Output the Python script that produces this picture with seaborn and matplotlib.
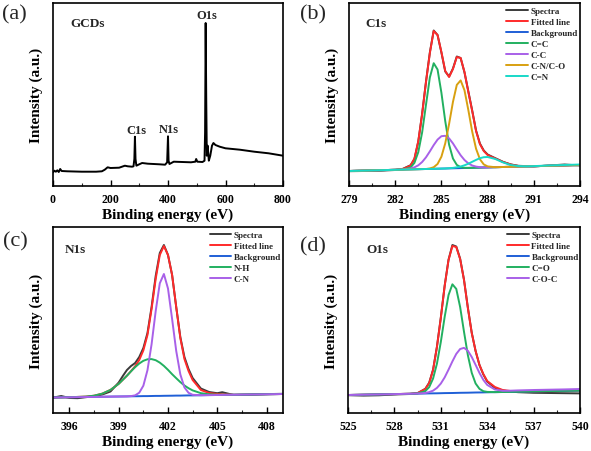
import numpy as np
import pandas as pd
import seaborn as sns
import matplotlib
matplotlib.use("Agg")
import matplotlib.pyplot as plt
from matplotlib.ticker import MultipleLocator

# ---------------- data ----------------
# (a) survey spectrum
survey_x = [0, 5, 10, 15, 20, 25, 30, 50, 100, 150, 170, 180, 190, 200, 230, 250, 260, 275, 280, 283,
            285, 287, 290, 300, 310, 330, 370, 390, 397, 400, 402, 405, 420, 450, 480, 495, 498, 502, 520, 527,
            529, 531, 533, 535, 538, 542, 547, 553, 558, 565, 580, 600, 650, 700, 750, 800]
survey_y = [13.7, 15.3, 14.3, 15.7, 14.0, 17.0, 15.0, 14.7, 14.3, 14.3, 14.7, 16.3, 18.7, 18.0, 18.3, 20.3, 19.7, 19.3, 19.7, 27.0,
            49.3, 27.0, 20.3, 21.7, 23.0, 22.3, 21.7, 21.3, 23.7, 49.7, 25.3, 22.0, 24.3, 24.0, 23.7, 24.3, 27.0, 24.3, 24.0, 25.3,
            53.7, 163.0, 87.0, 30.3, 40.3, 25.3, 30.3, 40.3, 43.0, 41.0, 39.3, 37.7, 36.3, 34.3, 32.7, 30.3]
survey_peaks = ["C1s", "N1s", "O1s"]
survey_peak_x = [289, 402, 536]
survey_peak_y = [56, 57, 171]

# (b) C1s
c1s_x = [279, 280, 281, 282, 282.5, 283, 283.25, 283.5, 283.75, 284, 284.25, 284.5, 284.75, 285, 285.25,
         285.5, 285.75, 286, 286.25, 286.5, 286.75, 287, 287.25, 287.5, 287.75, 288, 288.5, 289, 289.5, 290,
         290.5, 291, 292, 293, 294]
c1s_spectra = [14.8, 15.0, 15.3, 16.0, 17.2, 20.8, 27.0, 44.5, 72.5, 104.5, 133.5, 155.5, 151.0, 133.5, 114.5,
               109.5, 117.5, 129.5, 128.0, 113.5, 94.5, 75.5, 55.5, 42.5, 35.5, 31.5, 27.8, 24.2, 21.6, 20.2,
               19.9, 19.6, 20.5, 21.5, 20.5]
c1s_fit = [15.0, 15.4, 15.8, 16.2, 17.0, 20.5, 27.5, 45.0, 72.0, 104.0, 133.0, 155.0, 151.0, 134.0, 115.0,
           109.0, 117.0, 129.0, 128.0, 114.0, 94.0, 75.0, 55.0, 42.0, 35.0, 31.0, 27.5, 24.0, 21.5, 20.0,
           19.8, 19.8, 20.2, 20.6, 21.0]
c1s_bg = [15.0, 15.4, 15.8, 16.2, 16.4, 16.6, 16.7, 16.8, 16.9, 17.0, 17.1, 17.2, 17.3, 17.4, 17.5,
          17.6, 17.7, 17.8, 17.9, 18.0, 18.1, 18.2, 18.3, 18.4, 18.5, 18.6, 18.8, 19.0, 19.2, 19.4,
          19.6, 19.8, 20.2, 20.6, 21.0]
c1s_cc_double = [15.0, 15.4, 15.8, 16.2, 16.5, 18.6, 23.2, 33.9, 53.7, 81.3, 108.5, 122.8, 116.5, 93.3, 64.8,
                 41.3, 27.5, 21.1, 18.8, 18.2, 18.1, 18.2, 18.3, 18.4, 18.5, 18.6, 18.8, 19.0, 19.2, 19.4,
                 19.6, 19.8, 20.2, 20.6, 21.0]
c1s_cc_single = [15.0, 15.4, 15.8, 16.2, 16.5, 17.5, 18.7, 20.7, 24.0, 28.7, 34.6, 40.9, 46.4, 49.8, 50.2,
                 47.6, 42.6, 36.5, 30.7, 26.0, 22.6, 20.5, 19.4, 18.8, 18.5, 18.6, 18.8, 19.0, 19.2, 19.4,
                 19.6, 19.8, 20.2, 20.6, 21.0]
c1s_cn_co = [15.0, 15.4, 15.8, 16.2, 16.4, 16.6, 16.7, 16.8, 16.9, 17.0, 17.5, 18.8, 22.0, 29.3, 42.7,
             62.1, 84.1, 101.1, 105.6, 95.7, 75.9, 54.4, 37.3, 26.8, 21.6, 19.6, 18.8, 19.0, 19.2, 19.4,
             19.6, 19.8, 20.2, 20.6, 21.0]
c1s_cn_double = [15.0, 15.4, 15.8, 16.2, 16.4, 16.6, 16.7, 16.8, 16.9, 17.0, 17.1, 17.2, 17.3, 17.4, 17.5,
                 17.8, 18.1, 18.7, 19.5, 20.7, 22.3, 24.2, 26.1, 27.8, 28.8, 29.0, 27.0, 23.6, 21.0, 19.9,
                 19.7, 19.9, 20.5, 21.0, 21.5]

# (c) N1s
n1s_spec_x = [395, 395.5, 396, 396.5, 397, 397.5, 398, 398.5, 399, 399.25, 399.5, 399.75, 400, 400.25, 400.5,
              400.75, 401, 401.25, 401.5, 401.75, 402, 402.25, 402.5, 402.75, 403, 403.25, 403.5, 404, 404.5, 405,
              405.3, 406, 407, 408, 409]
n1s_spectra = [15.3, 17.0, 15.0, 14.8, 15.8, 16.8, 18.5, 21.5, 30.5, 37.0, 43.0, 47.0, 50.0, 56.0, 65.0,
               80.0, 106.0, 137.0, 160.0, 168.0, 158.0, 138.0, 106.0, 76.0, 56.0, 44.0, 35.0, 24.5, 21.0, 19.8,
               20.8, 18.0, 18.3, 18.9, 19.2]
n1s_x = [395, 396, 397, 397.5, 398, 398.5, 399, 399.5, 399.75, 400, 400.25, 400.5, 400.75, 401, 401.25,
         401.5, 401.75, 402, 402.25, 402.5, 402.75, 403, 403.25, 403.5, 404, 404.5, 405, 406, 407, 408, 409]
n1s_fit = [15.5, 15.75, 16.4, 17.3, 19.35, 23.1, 29.2, 37.3, 41.9, 46.75, 53.0, 62.6, 78.0, 104.0, 134.0,
           158.0, 167.0, 158.0, 138.0, 106.0, 75.0, 54.0, 42.0, 33.0, 23.0, 20.0, 19.0, 18.3, 18.5, 18.75, 19.0]
n1s_bg = [15.5, 15.75, 16.0, 16.1, 16.25, 16.4, 16.5, 16.6, 16.7, 16.75, 16.8, 16.9, 16.9, 17.0, 17.1,
          17.1, 17.2, 17.25, 17.3, 17.4, 17.4, 17.5, 17.6, 17.6, 17.75, 17.9, 18.0, 18.25, 18.5, 18.75, 19.0]
n1s_nh = [15.5, 15.75, 16.4, 17.3, 19.35, 23.1, 29.2, 37.3, 41.7, 45.85, 49.5, 52.2, 53.7, 53.9, 52.8,
          50.4, 47.1, 43.15, 38.8, 34.8, 30.9, 27.5, 24.8, 22.6, 19.85, 18.7, 18.3, 18.25, 18.5, 18.75, 19.0]
n1s_cn = [15.5, 15.75, 16.0, 16.1, 16.25, 16.4, 16.5, 16.6, 16.9, 17.65, 20.3, 27.3, 42.8, 68.7, 101.8,
          129.7, 139.0, 124.45, 94.0, 62.1, 38.6, 25.6, 20.2, 18.2, 17.75, 17.9, 18.0, 18.25, 18.5, 18.75, 19.0]

# (d) O1s
o1s_x = [525, 526, 527, 528, 529, 529.5, 530, 530.25, 530.5, 530.75, 531, 531.25, 531.5, 531.75, 532,
         532.25, 532.5, 532.75, 533, 533.25, 533.5, 533.75, 534, 534.5, 535, 535.5, 536, 537, 538, 539, 540]
o1s_spectra = [17.8, 17.4, 17.7, 18.5, 19.0, 19.8, 24.2, 30.3, 43.3, 66.3, 95.3, 127.3, 153.3, 168.0, 166.5,
               154.3, 133.3, 105.3, 80.3, 62.0, 48.0, 38.5, 31.5, 25.0, 22.5, 21.5, 20.8, 20.2, 20.0, 19.8, 19.6]
o1s_fit = [18.0, 18.3, 18.6, 18.9, 19.3, 20.0, 24.0, 30.0, 43.0, 66.0, 95.0, 127.0, 153.0, 167.0, 166.0,
           154.0, 133.0, 105.0, 80.0, 62.0, 48.0, 39.0, 32.0, 26.0, 23.0, 22.0, 21.5, 21.6, 21.9, 22.2, 22.5]
o1s_bg = [18.0, 18.3, 18.6, 18.9, 19.2, 19.35, 19.5, 19.6, 19.65, 19.7, 19.8, 19.9, 19.95, 20.0, 20.1,
          20.2, 20.25, 20.3, 20.4, 20.5, 20.55, 20.6, 20.7, 20.85, 21.0, 21.15, 21.3, 21.6, 21.9, 22.2, 22.5]
o1s_co = [18.0, 18.3, 18.6, 18.9, 19.2, 19.55, 21.9, 25.9, 34.45, 49.3, 70.9, 96.1, 117.95, 128.7, 124.1,
          106.0, 81.25, 57.8, 40.2, 29.5, 24.15, 21.8, 21.1, 20.85, 21.0, 21.15, 21.3, 21.6, 21.9, 22.2, 22.5]
o1s_coc = [18.0, 18.3, 18.6, 18.9, 19.2, 19.45, 20.0, 20.9, 22.35, 25.1, 29.4, 35.6, 43.35, 51.6, 59.1,
           64.0, 65.15, 62.2, 56.0, 48.1, 40.05, 33.1, 28.1, 23.5, 22.2, 22.3, 22.6, 23.0, 23.3, 23.6, 24.0]

# ---------------- style ----------------
sns.set_theme(style="ticks")
plt.rcParams["font.family"] = ["Liberation Serif", "DejaVu Serif"]
plt.rcParams["axes.linewidth"] = 1.2

C_SPEC = "#3a3a3a"
C_FIT = "#ff2a2a"
C_BG = "#1f5fd6"
C_GREEN = "#22b060"
C_PURPLE = "#a860e8"
C_ORANGE = "#d8a010"
C_CYAN = "#18d8c8"
LW = 1.4

fig = plt.figure(figsize=(5.91, 4.52), dpi=100)
W, H = 591.0, 452.0


def add_ax(left, top, right, bottom):
    return fig.add_axes([left / W, 1 - bottom / H, (right - left) / W, (bottom - top) / H])


ax_a = add_ax(53, 4, 283, 187)
ax_b = add_ax(349, 4, 580, 187)
ax_c = add_ax(53, 228, 283, 414)
ax_d = add_ax(348, 228, 580, 414)


def style(ax, xlim, ylim, ticks, minor):
    ax.set_xlim(*xlim)
    ax.set_ylim(*ylim)
    ax.set_xticks(ticks)
    ax.xaxis.set_minor_locator(MultipleLocator(minor))
    ax.set_yticks([])
    ax.tick_params(axis="x", which="major", direction="in", length=4, width=1.0,
                   pad=5, labelsize=8.5, bottom=True, top=False, colors="black")
    ax.tick_params(axis="x", which="minor", direction="in", length=2, width=0.8,
                   bottom=True, top=False)
    for lbl in ax.get_xticklabels():
        lbl.set_fontweight("bold")
    for s in ax.spines.values():
        s.set_visible(True)
        s.set_color("black")
        s.set_linewidth(1.2)
    ax.set_xlabel("Binding energy (eV)", fontsize=11, fontweight="bold", labelpad=2, color="black")
    ax.set_ylabel("Intensity (a.u.)", fontsize=11, fontweight="bold", labelpad=7, color="black")


def line(ax, x, y, color, label=None):
    sns.lineplot(x=x, y=y, ax=ax, color=color, lw=LW, label=label,
                 estimator=None, sort=False)


def legend(ax, x0):
    ax.legend(loc="upper left", bbox_to_anchor=(x0, 1.0), frameon=False,
              prop={"family": ["Liberation Serif"], "weight": "bold", "size": 6.5},
              handlelength=2.4, handletextpad=0.3, labelspacing=0.3,
              borderaxespad=0.2, borderpad=0.2)


# (a)
line(ax_a, survey_x, survey_y, "black")
style(ax_a, (0, 800), (0, 183), [0, 200, 400, 600, 800], 100)
ax_a.text(0.075, 0.89, "GCDs", transform=ax_a.transAxes, fontsize=9.5, fontweight="bold", va="center")
for name, px, py in zip(survey_peaks, survey_peak_x, survey_peak_y):
    ax_a.text(px, py, name, ha="center", va="center", fontsize=9, fontweight="bold")

# (b)
line(ax_b, c1s_x, c1s_spectra, C_SPEC, "Spectra")
line(ax_b, c1s_x, c1s_fit, C_FIT, "Fitted line")
line(ax_b, c1s_x, c1s_bg, C_BG, "Background")
line(ax_b, c1s_x, c1s_cc_double, C_GREEN, "C=C")
line(ax_b, c1s_x, c1s_cc_single, C_PURPLE, "C-C")
line(ax_b, c1s_x, c1s_cn_co, C_ORANGE, "C-N/C-O")
line(ax_b, c1s_x, c1s_cn_double, C_CYAN, "C=N")
style(ax_b, (279, 294), (0, 183), [279, 282, 285, 288, 291, 294], 1.5)
ax_b.text(0.07, 0.89, "C1s", transform=ax_b.transAxes, fontsize=9.5, fontweight="bold", va="center")
legend(ax_b, 0.665)

# (c)
line(ax_c, n1s_spec_x, n1s_spectra, C_SPEC, "Spectra")
line(ax_c, n1s_x, n1s_fit, C_FIT, "Fitted line")
line(ax_c, n1s_x, n1s_bg, C_BG, "Background")
line(ax_c, n1s_x, n1s_nh, C_GREEN, "N-H")
line(ax_c, n1s_x, n1s_cn, C_PURPLE, "C-N")
style(ax_c, (395, 409), (0, 186), [396, 399, 402, 405, 408], 1.5)
ax_c.text(0.052, 0.88, "N1s", transform=ax_c.transAxes, fontsize=9.5, fontweight="bold", va="center")
legend(ax_c, 0.665)

# (d)
line(ax_d, o1s_x, o1s_spectra, C_SPEC, "Spectra")
line(ax_d, o1s_x, o1s_fit, C_FIT, "Fitted line")
line(ax_d, o1s_x, o1s_bg, C_BG, "Background")
line(ax_d, o1s_x, o1s_co, C_GREEN, "C=O")
line(ax_d, o1s_x, o1s_coc, C_PURPLE, "C-O-C")
style(ax_d, (525, 540), (0, 186), [525, 528, 531, 534, 537, 540], 1.5)
ax_d.text(0.08, 0.88, "O1s", transform=ax_d.transAxes, fontsize=9.5, fontweight="bold", va="center")
legend(ax_d, 0.67)

# panel letters
for lab, px, py in [("(a)", 14, 15), ("(b)", 313, 15), ("(c)", 15, 242), ("(d)", 313, 247)]:
    fig.text(px / W, 1 - py / H, lab, ha="center", va="center", fontsize=16)

fig.savefig("out.png", dpi=100)
